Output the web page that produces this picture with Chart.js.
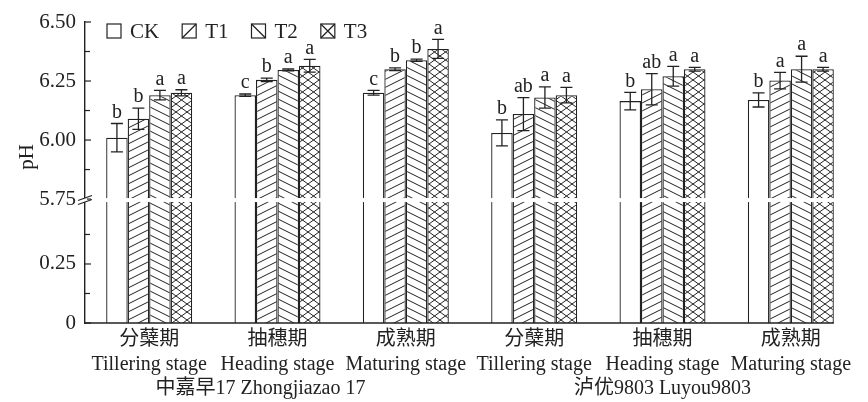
<!DOCTYPE html>
<html>
<head>
<meta charset="utf-8">
<script src="https://cdn.jsdelivr.net/npm/chart.js@4/dist/chart.umd.min.js"></script>
<style>
  html, body { margin: 0; padding: 0; background: #fff; }
  #wrap { width: 868px; height: 402px; }
</style>
</head>
<body>
<div id="wrap"><canvas id="ph"></canvas></div>
<script>
const stages = [
  ["分蘖期", "Tillering stage"], ["抽穗期", "Heading stage"], ["成熟期", "Maturing stage"],
  ["分蘖期", "Tillering stage"], ["抽穗期", "Heading stage"], ["成熟期", "Maturing stage"]
];
const cultivars = ["中嘉早17 Zhongjiazao 17", "泸优9803 Luyou9803"];
const seriesNames = ["CK", "T1", "T2", "T3"];

const ckMeans = [6.01, 6.19, 6.20, 6.03, 6.165, 6.17];
const ckErr = [0.06, 0.005, 0.01, 0.055, 0.037, 0.03];
const ckLetters = ["b", "c", "c", "b", "b", "b"];

const t1Means = [6.09, 6.255, 6.30, 6.11, 6.215, 6.252];
const t1Err = [0.045, 0.007, 0.006, 0.07, 0.066, 0.035];
const t1Letters = ["b", "b", "b", "ab", "ab", "a"];

const t2Means = [6.19, 6.297, 6.338, 6.18, 6.27, 6.30];
const t2Err = [0.02, 0.004, 0.005, 0.045, 0.042, 0.055];
const t2Letters = ["a", "a", "b", "a", "a", "a"];

const t3Means = [6.20, 6.315, 6.386, 6.19, 6.30, 6.30];
const t3Err = [0.013, 0.027, 0.04, 0.033, 0.008, 0.008];
const t3Letters = ["a", "a", "a", "a", "a", "a"];

// broken axis: 0..0.525 shown as is, 5.75 and up shifted down
const breakAt = 5.75;
const breakPos = 0.525;
const yTickValues = [0, 0.25, 5.75, 6.0, 6.25, 6.5];
const yTickLabels = ["0", "0.25", "5.75", "6.00", "6.25", "6.50"];
const yMinorValues = [0.125, 0.375, 5.875, 6.125, 6.375];

const toDisplay = (v) => (v >= breakAt ? v - breakAt + breakPos : v);

const ink = "#222";
const serif = '"Liberation Serif", "Noto Sans CJK SC", serif';

function hatch(w, h, dirs) {
  const c = document.createElement("canvas");
  c.width = w; c.height = h;
  const g = c.getContext("2d");
  g.fillStyle = "#fff";
  g.fillRect(0, 0, w, h);
  g.strokeStyle = ink;
  g.lineWidth = 1;
  dirs.forEach((d) => {
    for (let k = -1; k <= 1; k++) {
      g.beginPath();
      if (d === "/") {
        g.moveTo(-1, h + k * h + h / w);
        g.lineTo(w + 1, k * h - h / w);
      } else {
        g.moveTo(-1, k * h - h / w);
        g.lineTo(w + 1, h + k * h + h / w);
      }
      g.stroke();
    }
  });
  return g.createPattern(c, "repeat");
}

const fills = ["#fff", hatch(16, 8, ["/"]), hatch(16, 8, ["\\"]), hatch(11, 8, ["/", "\\"])];
const means = [ckMeans, t1Means, t2Means, t3Means];
const errs = [ckErr, t1Err, t2Err, t3Err];
const letters = [ckLetters, t1Letters, t2Letters, t3Letters];

const extras = {
  id: "extras",
  afterDatasetsDraw(chart) {
    const { ctx, chartArea: a, scales } = chart;
    const y = scales.y;
    const py = y.getPixelForValue(breakPos);
    ctx.save();

    // break gap through the bars
    ctx.fillStyle = "#fff";
    ctx.fillRect(a.left + 1, py - 1, a.right - a.left, 4);

    // error bars and letters
    ctx.strokeStyle = ink;
    ctx.fillStyle = ink;
    ctx.lineWidth = 1.3;
    ctx.font = "20px " + serif;
    ctx.textAlign = "center";
    ctx.textBaseline = "bottom";
    chart.data.datasets.forEach((ds, di) => {
      chart.getDatasetMeta(di).data.forEach((bar, i) => {
        const top = y.getPixelForValue(toDisplay(means[di][i] + errs[di][i]));
        const bot = y.getPixelForValue(toDisplay(means[di][i] - errs[di][i]));
        ctx.beginPath();
        ctx.moveTo(bar.x, top); ctx.lineTo(bar.x, bot);
        ctx.moveTo(bar.x - 6, top); ctx.lineTo(bar.x + 6, top);
        ctx.moveTo(bar.x - 6, bot); ctx.lineTo(bar.x + 6, bot);
        ctx.stroke();
        ctx.fillText(letters[di][i], bar.x, top - 1);
      });
    });
    ctx.restore();
  },
  afterDraw(chart) {
    const { ctx, chartArea: a, scales } = chart;
    const y = scales.y, x = scales.x;
    ctx.save();
    ctx.strokeStyle = ink;
    ctx.fillStyle = ink;
    ctx.lineWidth = 1.4;

    // x axis line up to the last bar
    const lastMeta = chart.getDatasetMeta(chart.data.datasets.length - 1);
    const lastBar = lastMeta.data[lastMeta.data.length - 1];
    ctx.beginPath();
    ctx.moveTo(a.left, a.bottom);
    ctx.lineTo(lastBar.x + lastBar.width / 2, a.bottom);
    ctx.stroke();

    // inward tick marks
    ctx.lineWidth = 1.2;
    yTickValues.forEach((v) => {
      const p = y.getPixelForValue(toDisplay(v));
      ctx.beginPath(); ctx.moveTo(a.left, p); ctx.lineTo(a.left + 6, p); ctx.stroke();
    });
    yMinorValues.forEach((v) => {
      const p = y.getPixelForValue(toDisplay(v));
      ctx.beginPath(); ctx.moveTo(a.left, p); ctx.lineTo(a.left + 5, p); ctx.stroke();
    });

    // axis break marks
    const py = y.getPixelForValue(breakPos);
    ctx.fillStyle = "#fff";
    ctx.fillRect(a.left - 2, py - 1, 4, 4);
    ctx.lineWidth = 1.2;
    [py - 1, py + 3].forEach((c) => {
      ctx.beginPath();
      ctx.moveTo(a.left - 7, c + 2.5);
      ctx.lineTo(a.left + 7, c - 2.5);
      ctx.stroke();
    });

    // legend
    ctx.fillStyle = ink;
    ctx.font = "21px " + serif;
    ctx.textBaseline = "middle";
    ctx.textAlign = "left";
    let lx = a.left + 22;
    const ly = 31;
    seriesNames.forEach((name, i) => {
      const bx = lx, by = ly - 7, s = 14;
      ctx.fillStyle = "#fff";
      ctx.fillRect(bx, by, s, s);
      ctx.lineWidth = 1.2;
      ctx.strokeRect(bx, by, s, s);
      ctx.beginPath();
      if (i === 1 || i === 3) { ctx.moveTo(bx, by + s); ctx.lineTo(bx + s, by); }
      if (i === 2 || i === 3) { ctx.moveTo(bx, by); ctx.lineTo(bx + s, by + s); }
      ctx.stroke();
      ctx.fillStyle = ink;
      const tx = bx + s + 9;
      ctx.fillText(name, tx, ly + 1);
      lx = tx + ctx.measureText(name).width + 23;
    });

    // y title
    ctx.save();
    ctx.translate(27, 157);
    ctx.rotate(-Math.PI / 2);
    ctx.textAlign = "center";
    ctx.fillText("pH", 0, 0);
    ctx.restore();

    // cultivar labels
    ctx.font = "20px " + serif;
    ctx.textAlign = "center";
    ctx.fillText(cultivars[0], x.getPixelForValue(1) - 17, a.bottom + 66);
    ctx.fillText(cultivars[1], x.getPixelForValue(4), a.bottom + 66);
    ctx.restore();
  }
};

new Chart(document.getElementById("ph"), {
  type: "bar",
  data: {
    labels: stages,
    datasets: seriesNames.map((name, i) => ({
      label: name,
      data: means[i].map(toDisplay),
      backgroundColor: fills[i],
      borderColor: ink,
      borderWidth: 1.3,
      categoryPercentage: 0.67,
      barPercentage: 1.0,
    })),
  },
  options: {
    responsive: true,
    maintainAspectRatio: false,
    animation: false,
    devicePixelRatio: 1,
    layout: { padding: { top: 22, right: 13, left: 0, bottom: 0 } },
    plugins: { legend: { display: false }, tooltip: { enabled: false } },
    scales: {
      x: {
        grid: { display: false },
        border: { display: false },
        ticks: {
          color: ink,
          font: { family: serif, size: 20, lineHeight: 1.25 },
          maxRotation: 0,
          autoSkip: false,
          padding: -4,
        },
        afterFit: (s) => { s.height = 79; },
      },
      y: {
        min: 0,
        max: toDisplay(6.5),
        grid: { display: false },
        border: { display: true, color: ink, width: 1.4 },
        afterBuildTicks: (s) => {
          s.ticks = yTickValues.map((v) => ({ value: toDisplay(v) }));
        },
        ticks: {
          color: ink,
          font: { family: serif, size: 21 },
          padding: 1,
          callback: (v, i) => yTickLabels[i],
        },
        afterFit: (s) => { s.width = 85; },
      },
    },
  },
  plugins: [extras],
});
</script>
</body>
</html>
